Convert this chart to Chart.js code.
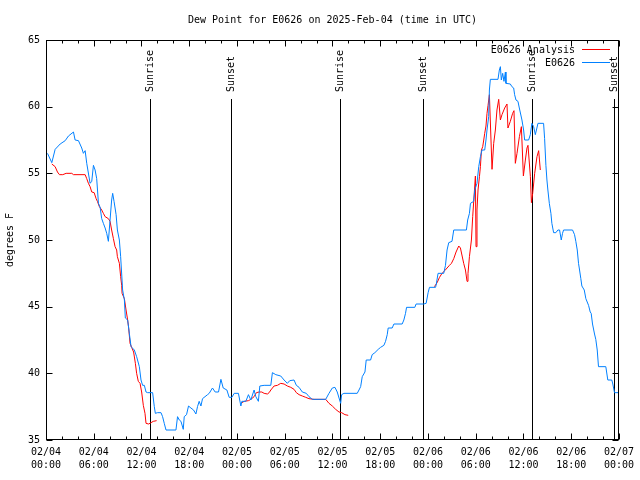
<!DOCTYPE html>
<html>
<head>
<meta charset="utf-8">
<script src="https://cdn.jsdelivr.net/npm/chart.js@4.4.1/dist/chart.umd.min.js"></script>
<style>
  html, body { margin: 0; padding: 0; background: #fff; }
  canvas { display: block; }
</style>
</head>
<body>
<canvas id="dewChart" width="640" height="480"></canvas>
<script>
// hours since 02/04 00:00 UTC
const stationHours = [
  0.19, 0.73, 1.15, 1.78, 2.41, 2.82, 3.45, 3.66, 4.08, 4.49, 4.70, 4.92, 5.12, 5.54, 5.75, 5.96,
  6.17, 6.37, 6.59, 6.80, 7.00, 7.21, 7.43, 7.63, 7.84, 8.05, 8.25, 8.38, 8.55, 8.81, 8.97, 9.22,
  9.38, 9.63, 9.85, 9.97, 10.26, 10.47, 10.69, 11.10, 11.39, 11.73, 11.94, 12.14, 12.36, 12.57, 12.77, 13.40,
  13.61, 13.74, 14.02, 14.45, 14.65, 14.86, 15.08, 16.33, 16.53, 16.75, 16.96, 17.25, 17.37, 17.66, 17.91, 18.21,
  18.54, 18.84, 19.04, 19.25, 19.47, 19.67, 20.30, 20.51, 20.92, 21.26, 21.68, 21.98, 22.27, 22.73, 23.02, 23.36,
  23.65, 24.18, 24.49, 24.61, 25.11, 25.44, 25.74, 26.15, 26.37, 26.69, 26.87, 27.41, 28.25, 28.45, 28.88, 29.50,
  29.92, 30.33, 30.63, 31.17, 31.46, 31.80, 32.21, 32.71, 33.05, 33.47, 35.15, 35.56, 35.98, 36.31, 36.60, 36.90,
  37.03, 37.15, 37.44, 39.11, 39.33, 39.54, 39.74, 40.08, 40.24, 40.79, 40.99, 41.33, 41.75, 42.05, 42.46, 42.67,
  42.88, 43.00, 43.50, 43.72, 44.76, 44.97, 45.18, 45.31, 46.35, 46.51, 47.47, 47.77, 48.02, 48.19, 48.95, 49.02,
  49.27, 49.98, 50.20, 50.40, 50.61, 51.02, 51.24, 52.83, 52.99, 53.21, 53.34, 53.75, 53.88, 54.16, 54.38, 54.59,
  54.79, 55.13, 55.29, 55.42, 55.63, 55.72, 55.84, 56.80, 56.97, 57.10, 57.22, 57.39, 57.55, 57.73, 57.80, 58.35,
  58.55, 58.77, 58.89, 59.06, 59.31, 59.48, 59.81, 60.02, 60.15, 60.65, 60.86, 61.06, 61.28, 61.49, 61.69, 61.82,
  62.53, 62.66, 62.82, 62.95, 63.07, 63.25, 63.45, 63.57, 63.79, 64.07, 64.33, 64.54, 64.75, 64.91, 65.04, 66.17,
  66.42, 66.58, 66.76, 66.92, 67.05, 67.21, 67.34, 67.64, 67.84, 68.18, 68.39, 68.51, 68.68, 68.93, 69.09, 69.27,
  69.43, 70.35, 70.60, 71.10, 71.23, 71.44, 71.94
];
const stationDewPoint = [
  56.5, 55.8, 56.8, 57.2, 57.45, 57.8, 58.1, 57.5, 57.45, 56.9, 56.5, 56.7, 55.75, 54.25, 54.4, 55.6,
  55.25, 54.6, 52.75, 52.45, 51.6, 51.25, 50.9, 50.5, 49.9, 51.5, 53.0, 53.5, 52.9, 51.9, 50.75, 50.0,
  48.75, 46.25, 45.5, 44.15, 44.0, 43.0, 42.0, 41.75, 41.25, 40.5, 39.5, 39.1, 39.1, 38.6, 38.55, 38.55,
  37.5, 37.0, 37.05, 37.05, 36.75, 36.25, 35.75, 35.75, 36.75, 36.5, 36.4, 35.8, 36.75, 36.9, 37.55, 37.4,
  37.25, 36.95, 37.5, 37.9, 37.55, 38.1, 38.4, 38.5, 38.9, 38.6, 38.6, 39.55, 38.9, 38.75, 38.2, 38.2,
  38.5, 38.5, 37.55, 37.9, 37.9, 38.4, 38.0, 38.75, 38.25, 37.9, 39.05, 39.1, 39.1, 40.05, 39.9, 39.8,
  39.5, 39.25, 39.45, 39.5, 39.1, 38.95, 38.6, 38.5, 38.25, 38.05, 38.05, 38.5, 38.9, 38.95, 38.6, 38.0,
  37.75, 38.4, 38.5, 38.5, 38.75, 39.0, 39.75, 40.1, 41.0, 41.0, 41.4, 41.55, 41.8, 41.95, 42.1, 42.4,
  42.9, 43.4, 43.4, 43.7, 43.7, 44.0, 44.5, 44.95, 44.95, 45.2, 45.2, 45.25, 46.05, 46.45, 46.45, 46.6,
  47.5, 47.5, 48.1, 49.25, 49.8, 49.9, 50.75, 50.75, 51.5, 52.0, 52.75, 52.9, 53.75, 54.25, 55.5, 56.25,
  56.75, 56.75, 57.5, 58.25, 59.25, 61.25, 62.05, 62.05, 62.75, 63.0, 62.0, 62.5, 61.9, 62.6, 61.75, 61.7,
  61.5, 61.4, 60.9, 60.5, 60.4, 59.9, 59.0, 58.25, 57.5, 57.5, 57.9, 58.75, 58.5, 57.9, 58.4, 58.75,
  58.75, 57.6, 55.6, 54.5, 53.75, 52.75, 52.0, 51.25, 50.55, 50.55, 50.75, 50.75, 50.0, 50.5, 50.75, 50.75,
  50.4, 49.9, 49.25, 48.25, 47.75, 47.1, 46.55, 46.25, 45.6, 45.1, 44.6, 44.5, 43.7, 42.95, 42.55, 41.75,
  40.5, 40.5, 39.5, 39.5, 39.2, 38.55, 38.55
];

// analysis has three runs, null marks the gaps
const analysisHours = [
  0.73, 1.15, 1.44, 1.69, 2.11, 2.53, 3.24, 3.45, 4.92, 5.12, 5.33, 5.54, 5.75, 6.05, 6.30, 6.46,
  6.71, 7.00, 7.21, 7.43, 7.84, 8.05, 8.25, 8.47, 8.68, 8.88, 8.97, 9.22, 9.38, 9.51, 9.56, 9.85,
  10.06, 10.26, 10.39, 10.56, 10.76, 11.01, 11.23, 11.39, 11.60, 11.82, 12.02, 12.23, 12.44, 12.57, 12.90, 13.20,
  13.48, 13.90,
  19.0,
  24.49, 24.90, 25.44, 25.74, 26.15, 26.44, 26.78, 27.12, 27.41, 27.82, 28.04, 28.25, 28.66, 29.08, 29.50, 29.92,
  30.33, 30.76, 31.17, 31.46, 31.80, 32.21, 32.64, 33.05, 33.68, 35.15, 35.56, 35.98, 36.40, 36.82, 37.15, 37.57,
  37.98,
  43.0,
  48.81, 49.15, 49.45, 49.77, 50.11, 50.40, 50.70, 50.95, 51.24, 51.53, 51.87, 52.08, 52.49, 52.71, 52.91, 53.03,
  53.21, 53.46, 53.62, 53.75, 53.96, 54.04, 54.16, 54.29, 54.47, 54.59, 54.72, 54.88, 55.01, 55.13, 55.29, 55.42,
  55.55, 55.72, 56.05, 56.26, 56.47, 56.67, 56.89, 57.10, 57.30, 57.64, 57.93, 58.05, 58.35, 58.64, 58.81, 58.98,
  59.19, 59.49, 59.74, 59.99, 60.24, 60.44, 60.57, 60.87, 61.00, 61.16, 61.41, 61.70, 61.91, 62.12
];
const analysisDewPoint = [
  55.7, 55.5, 55.1, 54.9, 54.9, 55.0, 55.0, 54.9, 54.9, 54.6, 54.25, 54.0, 53.6, 53.55, 53.1, 52.9,
  52.5, 52.25, 52.0, 51.75, 51.6, 51.4, 50.75, 50.1, 49.5, 49.25, 48.75, 48.25, 47.25, 46.6, 46.0, 45.6,
  44.75, 44.0, 43.4, 42.25, 41.95, 41.6, 40.75, 40.0, 39.4, 39.25, 38.6, 37.6, 37.0, 36.25, 36.2, 36.3,
  36.4, 36.45,
  null,
  37.75, 37.9, 37.95, 38.05, 38.25, 38.55, 38.6, 38.6, 38.5, 38.45, 38.55, 38.75, 39.05, 39.1, 39.25, 39.2,
  39.05, 38.95, 38.8, 38.55, 38.4, 38.3, 38.2, 38.1, 38.05, 38.05, 37.75, 37.55, 37.3, 37.1, 37.05, 36.9,
  36.85,
  null,
  46.5, 46.8, 47.2, 47.5, 47.7, 47.9, 48.1, 48.25, 48.6, 49.1, 49.55, 49.4, 48.25, 47.75, 46.9, 47.5,
  48.75, 50.0, 51.75, 52.9, 54.8, 49.5, 52.25, 53.75, 54.75, 55.5, 56.75, 57.0, 57.5, 58.0, 58.55, 59.5,
  60.1, 60.9, 55.3, 57.25, 58.25, 59.75, 60.55, 59.0, 59.4, 59.9, 60.2, 58.4, 58.9, 59.5, 59.7, 55.75,
  56.5, 57.75, 58.5, 54.8, 56.0, 56.9, 57.1, 54.75, 52.8, 53.5, 55.0, 56.25, 56.7, 55.25
];

const xTickLabels = [
  ['02/04', '00:00'], ['02/04', '06:00'], ['02/04', '12:00'], ['02/04', '18:00'],
  ['02/05', '00:00'], ['02/05', '06:00'], ['02/05', '12:00'], ['02/05', '18:00'],
  ['02/06', '00:00'], ['02/06', '06:00'], ['02/06', '12:00'], ['02/06', '18:00'],
  ['02/07', '00:00']
];
const sunLabels = ['Sunrise', 'Sunset', 'Sunrise', 'Sunset', 'Sunrise', 'Sunset'];
const sunHours = [13.02, 23.31, 37.0, 47.37, 61.05, 71.44];

const FONT = '10px "DejaVu Sans Mono", "Liberation Mono", monospace';

function toPoints(xs, ys) {
  return xs.map((x, i) => ({ x: x, y: ys[i] }));
}

// gnuplot look: frame, inward ticks, sun lines, legend, titles
const gnuplotDecor = {
  id: 'gnuplotDecor',
  beforeDatasetsDraw(chart) {
    const { ctx, chartArea: a, scales: { x } } = chart;
    ctx.save();
    ctx.strokeStyle = '#000';
    ctx.lineWidth = 1;
    ctx.fillStyle = '#000';
    ctx.font = FONT;
    sunHours.forEach((h, i) => {
      const px = Math.round(x.getPixelForValue(h)) + 0.5;
      ctx.beginPath();
      ctx.moveTo(px, 99);
      ctx.lineTo(px, a.bottom);
      ctx.stroke();
      ctx.save();
      ctx.translate(px, 92);
      ctx.rotate(-Math.PI / 2);
      ctx.textAlign = 'left';
      ctx.textBaseline = 'middle';
      ctx.fillText(sunLabels[i], 0, 0);
      ctx.restore();
    });
    ctx.restore();
  },
  afterDraw(chart) {
    const { ctx, chartArea: a, scales: { x, y } } = chart;
    const L = Math.round(a.left) + 0.5, R = Math.round(a.right) - 0.5;
    const T = Math.round(a.top) + 0.5, B = Math.round(a.bottom) - 0.5;
    ctx.save();
    ctx.strokeStyle = '#000';
    ctx.lineWidth = 1;
    ctx.beginPath();
    // x ticks, major every 6h, minor every 2h
    for (let h = 0; h <= 72; h += 2) {
      const px = Math.round(x.getPixelForValue(h)) + 0.5;
      const len = h % 6 === 0 ? 6 : 3;
      ctx.moveTo(px, B); ctx.lineTo(px, B - len);
      ctx.moveTo(px, T); ctx.lineTo(px, T + len);
    }
    for (let v = 35; v <= 65; v += 5) {
      const py = Math.round(y.getPixelForValue(v)) + 0.5;
      ctx.moveTo(L, py); ctx.lineTo(L + 6, py);
      ctx.moveTo(R, py); ctx.lineTo(R - 6, py);
    }
    ctx.stroke();
    ctx.strokeRect(L, T, R - L, B - T);

    ctx.fillStyle = '#000';
    ctx.font = FONT;
    // title
    ctx.textAlign = 'center';
    ctx.textBaseline = 'middle';
    ctx.fillText('Dew Point for E0626 on 2025-Feb-04 (time in UTC)', (a.left + a.right) / 2, 20);
    // y title
    ctx.save();
    ctx.translate(10, (a.top + a.bottom) / 2);
    ctx.rotate(-Math.PI / 2);
    ctx.fillText('degrees F', 0, 0);
    ctx.restore();

    // legend
    ctx.textAlign = 'right';
    chart.data.datasets.forEach((ds, i) => {
      const ly = 50 + i * 13;
      ctx.fillStyle = '#000';
      ctx.fillText(ds.label, 575, ly);
      ctx.strokeStyle = ds.borderColor;
      ctx.beginPath();
      ctx.moveTo(582, ly - 0.5);
      ctx.lineTo(610, ly - 0.5);
      ctx.stroke();
    });
    ctx.restore();
  }
};

const ctx = document.getElementById('dewChart').getContext('2d');

new Chart(ctx, {
  type: 'line',
  data: {
    datasets: [{
      label: 'E0626 Analysis',
      data: toPoints(analysisHours, analysisDewPoint),
      borderColor: '#ff0000',
      borderWidth: 1,
      pointRadius: 0,
      tension: 0,
      spanGaps: false,
      order: 1
    }, {
      label: 'E0626',
      data: toPoints(stationHours, stationDewPoint),
      borderColor: '#0080ff',
      borderWidth: 1,
      pointRadius: 0,
      tension: 0,
      order: 0
    }]
  },
  options: {
    responsive: false,
    animation: false,
    devicePixelRatio: 1,
    layout: { padding: { top: 40, right: 20, left: 0, bottom: 0 } },
    plugins: {
      legend: { display: false },
      tooltip: { enabled: false }
    },
    scales: {
      x: {
        type: 'linear',
        min: 0,
        max: 72,
        afterFit: (s) => { s.height = 40; },
        grid: { display: false, drawTicks: false },
        border: { display: false },
        ticks: {
          stepSize: 6,
          autoSkip: false,
          maxRotation: 0,
          padding: 6,
          color: '#000',
          font: { family: '"DejaVu Sans Mono", monospace', size: 10, lineHeight: 1.3 },
          callback: (v) => xTickLabels[Math.round(v / 6)]
        }
      },
      y: {
        min: 35,
        max: 65,
        afterFit: (s) => { s.width = 46; },
        grid: { display: false, drawTicks: false },
        border: { display: false },
        ticks: {
          stepSize: 5,
          padding: 6,
          color: '#000',
          font: { family: '"DejaVu Sans Mono", monospace', size: 10 }
        }
      }
    }
  },
  plugins: [gnuplotDecor]
});
</script>
</body>
</html>
